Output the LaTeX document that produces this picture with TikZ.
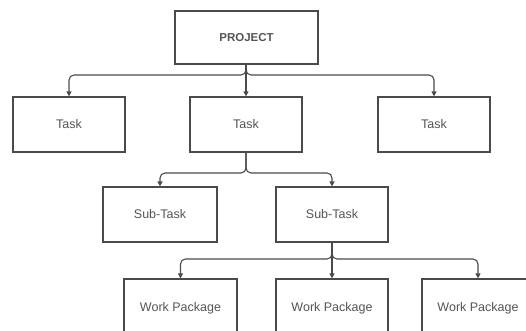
\documentclass[tikz,border=0pt]{standalone}
\usepackage{fontspec}
\setmainfont{Liberation Sans}
\usetikzlibrary{arrows.meta}
\definecolor{ln}{HTML}{4A4A4A}
\definecolor{tx}{HTML}{555555}
\begin{document}
\begin{tikzpicture}[x=1pt,y=-1pt,
  box/.style={draw=ln,line width=1.2pt,fill=white,inner sep=0pt,text=tx,font=\fontsize{12.5}{14}\selectfont},
  arr/.style={draw=ln,line width=1.1pt,rounded corners=5pt,-{Triangle[width=5pt,length=5pt]}}]
\clip (0,0) rectangle (526,331);
\fill[white] (0,0) rectangle (526,331);
\node[box,minimum width=143pt,minimum height=53pt,font=\fontsize{11.5}{14}\selectfont\bfseries] (proj) at (246.5,37.5) {PROJECT};
\node[box,minimum width=112pt,minimum height=55pt] (t1) at (69,124.5) {Task};
\node[box,minimum width=112pt,minimum height=55pt] (t2) at (246,124.5) {Task};
\node[box,minimum width=112pt,minimum height=55pt] (t3) at (434,124.5) {Task};
\node[box,minimum width=114pt,minimum height=55pt] (s1) at (160,214.5) {Sub-Task};
\node[box,minimum width=112pt,minimum height=55pt] (s2) at (332,214.5) {Sub-Task};
\node[box,minimum width=113pt,minimum height=58pt] (w1) at (180.5,308) {Work Package};
\node[box,minimum width=112pt,minimum height=58pt] (w2) at (332,308) {Work Package};
\node[box,minimum width=112pt,minimum height=58pt] (w3) at (478,308) {Work Package};
\coordinate (b1) at (0,75);
\coordinate (b2) at (0,173);
\coordinate (b3) at (0,259);
\draw[arr] (proj.south -| t2.north) -- (t2.north);
\draw[arr] (proj.south -| t2.north) -- (t2.north |- b1) -| (t1.north);
\draw[arr] (proj.south -| t2.north) -- (t2.north |- b1) -| (t3.north);
\draw[arr] (t2.south) -- (t2.south |- b2) -| (s1.north);
\draw[arr] (t2.south) -- (t2.south |- b2) -| (s2.north);
\draw[arr] (s2.south) -- (w2.north);
\draw[arr] (s2.south) -- (s2.south |- b3) -| (w1.north);
\draw[arr] (s2.south) -- (s2.south |- b3) -| (w3.north);
\end{tikzpicture}
\end{document}
